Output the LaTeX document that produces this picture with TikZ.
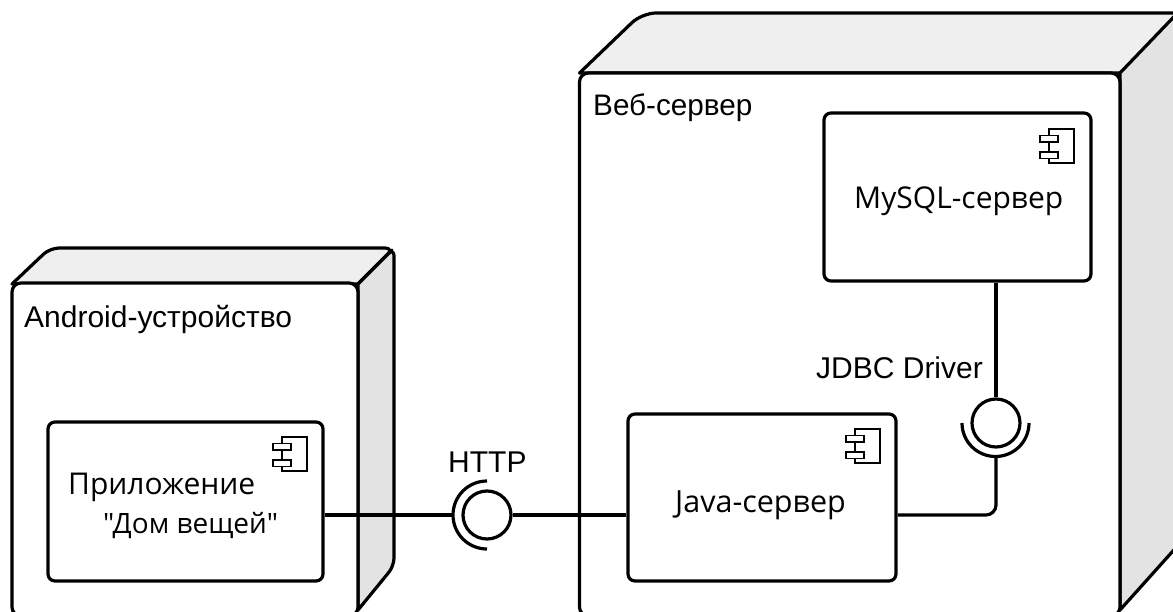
\documentclass[tikz,border=0pt]{standalone}
\usepackage{fontspec}
\setmainfont{Open Sans}[Ligatures=TeXOff]
\newfontfamily\arialfont{Liberation Sans}
\definecolor{topgray}{HTML}{EFEFEF}
\definecolor{sidegray}{HTML}{E3E3E3}
\tikzset{
  edge/.style={line width=3.2pt,black,line join=round},
  frontface/.style={edge,fill=white,rounded corners=9pt},
  topface/.style={edge,fill=topgray},
  sideface/.style={edge,fill=sidegray},
  compbox/.style={draw=black,line width=3.2pt,fill=white,rectangle,rounded corners=7pt,inner sep=0pt},
  ball/.style={draw=black,line width=3.2pt,fill=white,circle,inner sep=0pt,minimum size=48pt},
  iconbody/.style={draw=black,line width=1.8pt,fill=white},
  label/.style={inner sep=0pt,anchor=base west,font=\fontsize{30pt}{34pt}\selectfont},
  arial/.style={inner sep=0pt,anchor=base west,font=\arialfont\fontsize{30pt}{34pt}\selectfont},
}
\newcommand{\compicon}[2]{%
  \draw[iconbody] (#1+9,#2) rectangle (#1+34,#2+34);
  \draw[iconbody] (#1,#2+6.5) rectangle (#1+18,#2+13);
  \draw[iconbody] (#1,#2+23) rectangle (#1+18,#2+29.5);
}
\begin{document}
\begin{tikzpicture}[x=1pt,y=-1pt]
\useasboundingbox (0,0) rectangle (1173,612);
\fill[white] (0,0) rectangle (1173,612);
\begin{scope}
\clip (0,0) rectangle (1173,612);
% Android device
\draw[topface] (12,284) [rounded corners=9pt] -- (50,248) -- (394,248) [sharp corners] -- (358,284) -- cycle;
\draw[sideface] (358,284) -- (392,250) [rounded corners=8pt] -- (394,248) -- (394,566) [sharp corners] -- (358,610) -- cycle;
\draw[frontface] (12,283) rectangle (358,616);
% Web server
\draw[topface] (579.5,73) [rounded corners=14pt] -- (642,13) -- (1240,13) [sharp corners] -- (1120,73) -- cycle;
\draw[sideface] (1120,73) -- (1190,0) -- (1190,532) -- (1120,610) -- cycle;
\draw[frontface] (579.5,73) rectangle (1120,616);
\end{scope}
% Components
\node[compbox,minimum width=267pt,minimum height=168pt] (mysql) at (957.5,197) {};
\node[compbox,minimum width=268pt,minimum height=167pt] (java) at (762,497.5) {};
\node[compbox,minimum width=275pt,minimum height=159pt] (app) at (185.5,501.5) {};
\compicon{1040}{129}
\compicon{846}{429}
\compicon{273}{437}
% Interfaces
\node[ball] (jdbc) at (996,423) {};
\node[ball] (http) at (487,515) {};
\coordinate (jdbcsocket) at (996,456);
\coordinate (httpsocket) at (453,515);
\draw[edge,line cap=butt] (962,423) arc[start angle=180,end angle=360,radius=33.5pt];
\draw[edge,line cap=butt] (487,481) arc[start angle=90,end angle=270,radius=34pt];
% Connectors
\draw[edge] (mysql.south -| jdbc) -- (jdbc.north);
\draw[edge,rounded corners=10pt] (java.east |- http) -- (jdbcsocket |- http) -- (jdbcsocket);
\draw[edge] (app.east |- http) -- (httpsocket);
\draw[edge] (http.east) -- (java.west |- http);
% Labels
\node[arial] (androidlabel) at (24,327) {Android-устройство};
\node[arial,font=\arialfont\fontsize{29.7pt}{34pt}\selectfont] (weblabel) at (593,116) {Веб-сервер};
\node[label] (mysqllabel) at (854,209) {MySQL-сервер};
\node[label,font=\fontsize{30.5pt}{34pt}\selectfont] (javalabel) at (675,512) {Java-сервер};
\node[label] (applabel1) at (68,494) {Приложение};
\node[label,font=\fontsize{28pt}{34pt}\selectfont] (applabel2) at (103,533) {"Дом вещей"};
\node[arial] (httplabel) at (448,472) {HTTP};
\node[arial] (jdbclabel) at (816,378) {JDBC Driver};
\end{tikzpicture}
\end{document}
